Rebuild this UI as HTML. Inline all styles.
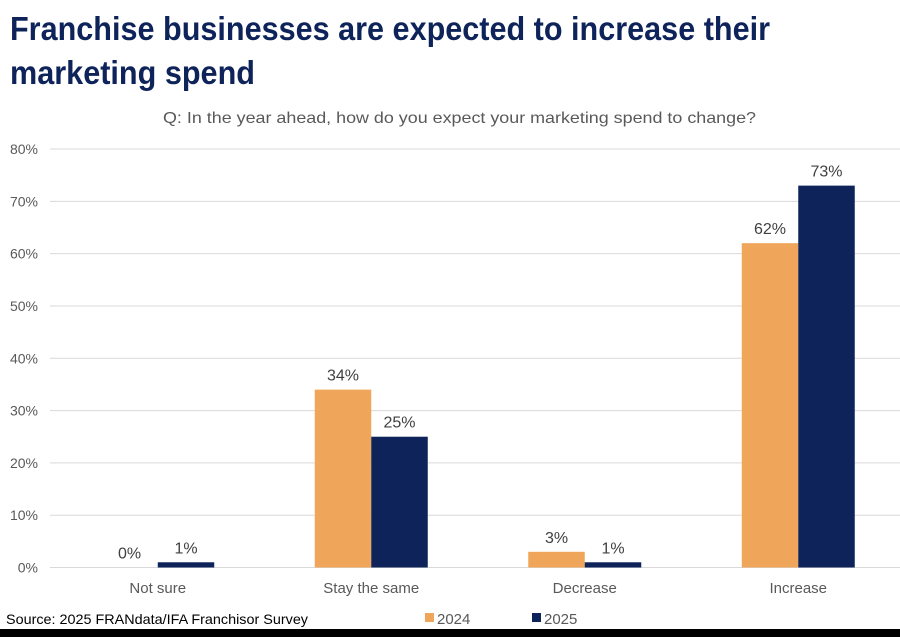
<!DOCTYPE html>
<html><head><meta charset="utf-8"><style>
body{margin:0;background:#fff;}
svg{display:block;font-family:"Liberation Sans",sans-serif;}
</style></head><body>
<svg id="chart" width="900" height="637" viewBox="0 0 900 637">
<text x="10" y="40" font-size="33" font-weight="bold" fill="#0d2359" textLength="760" lengthAdjust="spacingAndGlyphs">Franchise businesses are expected to increase their</text>
<text x="10" y="84" font-size="33" font-weight="bold" fill="#0d2359" textLength="245" lengthAdjust="spacingAndGlyphs">marketing spend</text>
<text x="163" y="123" font-size="16" fill="#595959" textLength="593" lengthAdjust="spacingAndGlyphs">Q: In the year ahead, how do you expect your marketing spend to change?</text>
<g id="grid"></g>
<g id="bars"></g>
<text x="6" y="624" font-size="14" fill="#000" textLength="302" lengthAdjust="spacingAndGlyphs">Source: 2025 FRANdata/IFA Franchisor Survey</text>
<g>
<rect x="425" y="613" width="9" height="9" fill="#f0a65a"/>
<text x="437" y="624" font-size="15" fill="#595959">2024</text>
<rect x="532" y="613" width="9" height="9" fill="#0d2359"/>
<text x="544" y="624" font-size="15" fill="#595959">2025</text>
</g>
<rect x="0" y="629" width="900" height="8" fill="#000"/>
</svg>
<script>
const categories=["Not sure","Stay the same","Decrease","Increase"];
const values2024=[0,34,3,62];
const values2025=[1,25,1,73];
const yTicks=[0,10,20,30,40,50,60,70,80];
const ns="http://www.w3.org/2000/svg";
const y0=567.5,yTop=149,plotL=50,plotR=900,catW=213.5;
function y(v){return y0-(v/80)*(y0-yTop);}
function cx(i){return plotL+catW*(i+0.5)+1;}
function mk(tag,attrs,parent){const e=document.createElementNS(ns,tag);for(const k in attrs)e.setAttribute(k,attrs[k]);parent.appendChild(e);return e;}
const grid=document.getElementById('grid'),bars=document.getElementById('bars');
yTicks.forEach(t=>{
 const l=mk('line',{x1:plotL,x2:plotR,y1:y(t),y2:y(t),stroke:'#d9d9d9','stroke-width':1},grid);
 
 
 const tx=mk('text',{x:38,y:y(t)+5,'text-anchor':'end','font-size':14,fill:'#595959'},grid);
 tx.textContent=t+'%';
 
 
});
const bw=56.5;
categories.forEach((c,i)=>{
 [[values2024,'#f0a65a',-1],[values2025,'#0d2359',0]].forEach(([arr,col,off])=>{
  const v=arr[i],x=cx(i)+off*bw;
  const r=mk('rect',{x:x,y:y(v),width:bw,height:y0-y(v),fill:col},bars);
  
  
  const t=mk('text',{x:x+bw/2,y:y(v)-9,'text-anchor':'middle','font-size':16,fill:'#404040'},bars);
  t.textContent=v+'%';
  
  
 });
 const ct=mk('text',{x:cx(i),y:593,'text-anchor':'middle','font-size':15,fill:'#595959'},bars);
 ct.textContent=c;
 
 
});
</script>
</body></html>
